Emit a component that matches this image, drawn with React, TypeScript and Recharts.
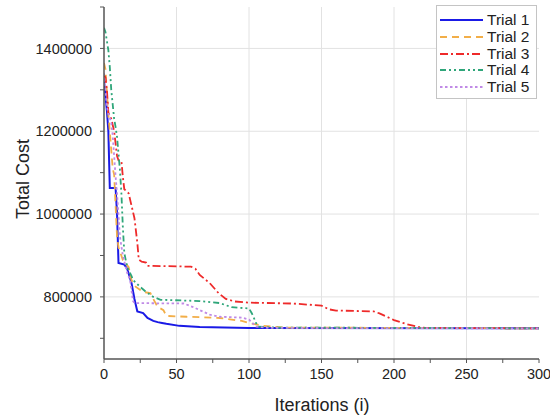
import React from 'react';
import { LineChart, Line, XAxis, YAxis, CartesianGrid } from 'recharts';

type Pt = { i: number; v: number };
const mk = (pairs: number[][]): Pt[] => pairs.map(([i, v]) => ({ i, v }));

const trial1 = mk([
  [0, 1320000], [2, 1250000], [3, 1200000], [4, 1063000], [8, 1063000], [9, 1000000],
  [10, 882000], [14, 878000], [16, 868000], [19, 833000], [21, 795000], [23, 765000],
  [27, 761000], [30, 749000], [34, 742000], [37, 739000], [40, 737000], [43, 735000],
  [52, 730000], [66, 727000], [100, 725000], [300, 724000],
]);
const trial2 = mk([
  [0, 1365000], [1, 1350000], [3, 1240000], [4, 1200000], [6, 1110000], [7, 1095000],
  [8, 1020000], [9, 945000], [10, 920000], [13, 889000], [17, 872000], [19, 840000],
  [22, 824000], [27, 812000], [32, 809000], [34, 795000], [37, 776000], [41, 768000],
  [43, 754000], [57, 752000], [66, 751000], [80, 749000], [95, 742000], [100, 737000],
  [110, 730000], [125, 726000], [300, 724000],
]);
const trial3 = mk([
  [0, 1335000], [1, 1330000], [2, 1300000], [3, 1245000], [5, 1230000], [7, 1200000],
  [9, 1140000], [10, 1130000], [12, 1128000], [13, 1090000], [14, 1060000], [17, 1050000],
  [19, 1020000], [21, 990000], [23, 930000], [24, 890000], [26, 885000], [29, 883000],
  [30, 875000], [60, 873000], [63, 868000], [66, 853000], [73, 833000], [79, 809000],
  [84, 795000], [90, 789000], [100, 786000], [130, 784000], [150, 779000], [155, 770000],
  [160, 767000], [186, 765000], [190, 760000], [200, 744000], [209, 734000], [217, 727000],
  [222, 725000], [300, 724000],
]);
const trial4 = mk([
  [0, 1450000], [1, 1440000], [3, 1396000], [4, 1355000], [5, 1300000], [7, 1230000],
  [8, 1210000], [9, 1186000], [11, 1106000], [12, 1050000], [13, 969000], [14, 906000],
  [16, 872000], [19, 850000], [20, 841000], [25, 824000], [29, 812000], [34, 800000],
  [39, 793000], [66, 790000], [80, 785000], [88, 775000], [100, 772000], [102, 760000],
  [106, 728000], [120, 726000], [300, 724000],
]);
const trial5 = mk([
  [0, 1340000], [2, 1258000], [3, 1244000], [5, 1220000], [6, 1190000], [8, 1090000],
  [9, 1050000], [11, 945000], [13, 900000], [16, 858000], [18, 840000], [20, 790000],
  [21, 785000], [55, 784000], [61, 776000], [73, 757000], [80, 752000], [95, 750000],
  [100, 745000], [105, 728000], [115, 725000], [300, 724000],
]);

const seriesNames = ['Trial 1', 'Trial 2', 'Trial 3', 'Trial 4', 'Trial 5'];
const seriesData = [trial1, trial2, trial3, trial4, trial5];
const colors = ['#1a1ae6', '#f2ae48', '#ee2a2a', '#2fa67a', '#c08ae6'];
const dashes = ['', '7 5', '8 3 2 3', '6 3 2 3 2 3', '2.5 2.5'];
const widths = [2, 1.8, 1.8, 1.8, 1.8];

const xTicks = [0, 25, 50, 75, 100, 125, 150, 175, 200, 225, 250, 275, 300];
const yTicks = [700000, 800000, 900000, 1000000, 1100000, 1200000, 1300000, 1400000, 1500000];

const FONT = 'Arial, "Liberation Sans", sans-serif';

export default function App() {
  return (
    <div style={{ position: 'absolute', left: 0, top: 0, width: 550, height: 417, fontFamily: FONT, background: '#fff' }}>
      <LineChart width={550} height={417} margin={{ top: 7, right: 11, left: 0, bottom: 0 }}>
        <CartesianGrid
          stroke="#e2e2e2"
          strokeWidth={1}
          horizontalValues={[800000, 1000000, 1200000, 1400000]}
          verticalValues={[50, 100, 150, 200, 250]}
        />
        <XAxis
          dataKey="i"
          type="number"
          domain={[0, 300]}
          ticks={xTicks}
          interval={0}
          allowDataOverflow
          height={58}
          tickSize={4}
          tickMargin={6}
          tickFormatter={(v: number) => (v % 50 === 0 ? String(v) : '')}
          tick={{ fill: '#222', fontSize: 14.5, fontFamily: FONT }}
          axisLine={{ stroke: '#555', strokeWidth: 1.5 }}
          tickLine={{ stroke: '#555' }}
          label={() => (
            <text x={322} y={405} textAnchor="middle" dominantBaseline="central" fontSize={18} fill="#222" fontFamily={FONT}>
              Iterations (i)
            </text>
          )}
        />
        <YAxis
          type="number"
          domain={[650000, 1500000]}
          ticks={yTicks}
          interval={0}
          allowDataOverflow
          width={104}
          tickSize={4}
          tickMargin={8}
          tickFormatter={(v: number) => (v % 200000 === 0 ? String(v) : '')}
          tick={{ fill: '#222', fontSize: 14.5, fontFamily: FONT }}
          axisLine={{ stroke: '#555', strokeWidth: 1.5 }}
          tickLine={{ stroke: '#555' }}
          label={() => (
            <text x={23} y={179} transform="rotate(-90, 23, 179)" textAnchor="middle" dominantBaseline="central" fontSize={18} fill="#222" fontFamily={FONT}>
              Total Cost
            </text>
          )}
        />
        {seriesData.map((d, k) => (
          <Line
            key={seriesNames[k]}
            data={d}
            dataKey="v"
            name={seriesNames[k]}
            type="linear"
            stroke={colors[k]}
            strokeWidth={widths[k]}
            strokeDasharray={dashes[k] || undefined}
            dot={false}
            activeDot={false}
            isAnimationActive={false}
          />
        ))}
      </LineChart>
      <div
        style={{
          position: 'absolute', left: 436, top: 5, width: 101, height: 94,
          border: '1px solid #c4c4c4', background: '#fff', boxSizing: 'border-box',
          paddingTop: 6,
        }}
      >
        {seriesNames.map((n, k) => (
          <div key={n} style={{ display: 'flex', alignItems: 'center', height: 16.7 }}>
            <svg width={46} height={10} style={{ display: 'block', marginLeft: 3 }}>
              <line x1={0} y1={5} x2={43} y2={5} stroke={colors[k]} strokeWidth={widths[k]} strokeDasharray={dashes[k] || undefined} />
            </svg>
            <span style={{ fontSize: 15.5, color: '#222', marginLeft: 1, lineHeight: '16px' }}>{n}</span>
          </div>
        ))}
      </div>
    </div>
  );
}
